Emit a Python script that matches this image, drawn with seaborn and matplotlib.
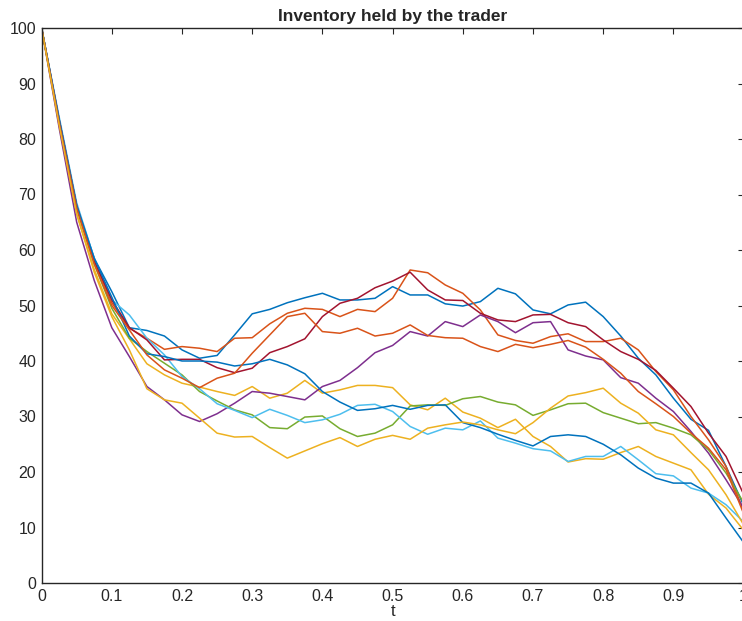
import numpy as np
import pandas as pd
import matplotlib
matplotlib.use("Agg")
import matplotlib.pyplot as plt
import seaborn as sns

# time grid of the sampled paths (t = 0, 0.025, ..., 1)
t = np.round(np.arange(41) * 0.025, 3)

# inventory paths (one list per simulated trader)
blue_hi = [100, 83.5, 68, 58.5, 52.5, 46, 45.5, 44.5, 42, 40.5, 41, 44.7, 48.5, 49.3, 50.5, 51.4,
           52.2, 51, 51, 51.3, 53.4, 51.9, 51.9, 50.3, 49.9, 50.7, 53.1, 52.1, 49.2, 48.5, 50.1,
           50.6, 48, 44.5, 40.5, 37.5, 33.3, 29.5, 27.5, 21, 14]
orange_hi = [100, 83.5, 68, 58, 50.5, 45.9, 44.1, 42.1, 42.6, 42.3, 41.7, 44.1, 44.2, 46.7, 48.6,
             49.5, 49.3, 48, 49.3, 48.9, 51.3, 56.4, 55.9, 53.7, 52.2, 49.2, 44.7, 43.7, 43.2, 44.4,
             44.9, 43.5, 43.5, 44.1, 42, 38.1, 34.8, 30, 25.8, 21, 13]
yellow_hi = [100, 82.5, 66.5, 56.5, 48.5, 44, 39.5, 37.5, 36, 35.3, 34.5, 33.8, 35.4, 33.3, 34.2,
             36.5, 34.2, 34.8, 35.6, 35.6, 35.2, 32.1, 31.2, 33.3, 30.8, 29.7, 28, 29.5, 26.4, 24.6,
             21.8, 22.4, 22.3, 23.5, 24.6, 22.8, 21.6, 20.4, 16, 13.5, 9.5]
purple = [100, 82, 65, 54.5, 46, 40.8, 35.4, 33, 30.3, 29.1, 30.5, 32.4, 34.5, 34.2, 33.6, 33,
          35.4, 36.5, 38.8, 41.5, 42.8, 45.3, 44.5, 47.1, 46.2, 48.3, 47.1, 45.1, 46.9, 47.1, 42,
          40.9, 40.2, 37, 36, 33.3, 30.9, 27.3, 23.4, 18.6, 13.5]
green = [100, 83, 67.5, 57.5, 49.5, 44.1, 41.7, 39.6, 37.5, 34.5, 32.8, 31.2, 30.3, 28, 27.8, 29.9,
         30.1, 27.8, 26.4, 27, 28.5, 31.9, 32.1, 32, 33.2, 33.6, 32.6, 32.1, 30.2, 31.2, 32.3, 32.4,
         30.7, 29.7, 28.7, 28.9, 27.9, 26.7, 24, 19.8, 14.5]
light_blue = [100, 84, 68.5, 58.5, 51, 48.3, 44.1, 41.1, 37.2, 35, 32.3, 31.1, 29.8, 31.3, 30.2,
              28.9, 29.4, 30.4, 32, 32.2, 30.9, 28.2, 26.8, 27.9, 27.6, 29.2, 26.1, 25.2, 24.2, 23.8,
              21.9, 22.8, 22.8, 24.6, 22.2, 19.7, 19.3, 17.1, 16.2, 14.1, 11]
dark_red = [100, 83.5, 68, 58, 51, 46, 43.8, 40.2, 40.3, 40.3, 38.8, 37.9, 38.7, 41.5, 42.6, 44,
            48, 50.4, 51.3, 53.2, 54.4, 56, 52.8, 51, 50.9, 48.6, 47.4, 47.1, 48.3, 48.4, 46.9, 46.2,
            43.8, 41.7, 40.3, 38.3, 35.1, 31.8, 27, 22.8, 16]
blue_lo = [100, 83.5, 68, 58.5, 51.5, 44.5, 41.3, 40.8, 40, 40, 39.8, 39.1, 39.5, 40.3, 39.3, 37.7,
           34.5, 32.6, 31.1, 31.4, 32, 31.3, 32, 32.1, 28.9, 28, 26.8, 25.7, 24.7, 26.4, 26.7, 26.4,
           25, 23.1, 20.7, 18.9, 18, 18, 16.2, 11.7, 7.3]
orange_lo = [100, 83, 67.5, 57.5, 50, 45.6, 41.1, 38.4, 36.9, 35.2, 36.9, 37.8, 41.4, 44.7, 48,
             48.6, 45.3, 45, 45.9, 44.5, 45, 46.5, 44.6, 44.2, 44.1, 42.6, 41.7, 43, 42.4, 43, 43.7,
             42.5, 40.3, 37.8, 34.5, 32.3, 30, 27, 24.3, 20.4, 12.5]
yellow_lo = [100, 82.5, 66.5, 56, 48, 42, 35, 33, 32.4, 29.7, 27, 26.3, 26.4, 24.4, 22.5, 23.8, 25.1,
             26.2, 24.6, 25.9, 26.6, 25.9, 27.9, 28.5, 29, 28.5, 27.6, 26.9, 28.9, 31.5, 33.7, 34.3,
             35.1, 32.4, 30.6, 27.6, 26.7, 23.5, 20.4, 15.9, 10.5]

paths = [blue_hi, orange_hi, yellow_hi, purple, green, light_blue, dark_red,
         blue_lo, orange_lo, yellow_lo]

# MATLAB default line colour order
colors = ["#0072BD", "#D95319", "#EDB120", "#7E2F8E", "#77AC30", "#4DBEEE", "#A2142F",
          "#0072BD", "#D95319", "#EDB120"]

df = pd.DataFrame({
    "t": np.tile(t, len(paths)),
    "inventory": np.concatenate(paths),
    "path": np.repeat(np.arange(len(paths)), len(t)),
})

sns.set_style("white")
plt.rcParams["font.family"] = ["Liberation Sans Narrow", "Liberation Sans", "DejaVu Sans"]

fig = plt.figure(figsize=(7.42, 6.21), dpi=100)
ax = fig.add_axes([41.6 / 742, 1 - 583 / 621, 702 / 742, 555 / 621])

sns.lineplot(data=df, x="t", y="inventory", hue="path", palette=colors,
             estimator=None, sort=False, legend=False, linewidth=1.1, ax=ax)

ax.set_xlim(0, 1)
ax.set_ylim(0, 100)
ax.set_xticks(np.arange(0, 1.01, 0.1))
ax.set_xticklabels(["0", "0.1", "0.2", "0.3", "0.4", "0.5", "0.6", "0.7", "0.8", "0.9", "1"])
ax.set_yticks(np.arange(0, 101, 10))
ax.tick_params(direction="in", length=4, width=0.8, colors="#262626", labelsize=11.5,
               top=True, right=True, pad=4)
for s in ax.spines.values():
    s.set_color("#262626")
    s.set_linewidth(1.0)

ax.set_title("Inventory held by the trader", fontsize=12.5, fontweight="bold", pad=5)
ax.set_xlabel("t", fontsize=12, labelpad=0)
ax.set_ylabel("")

fig.savefig("out.png", dpi=100)
